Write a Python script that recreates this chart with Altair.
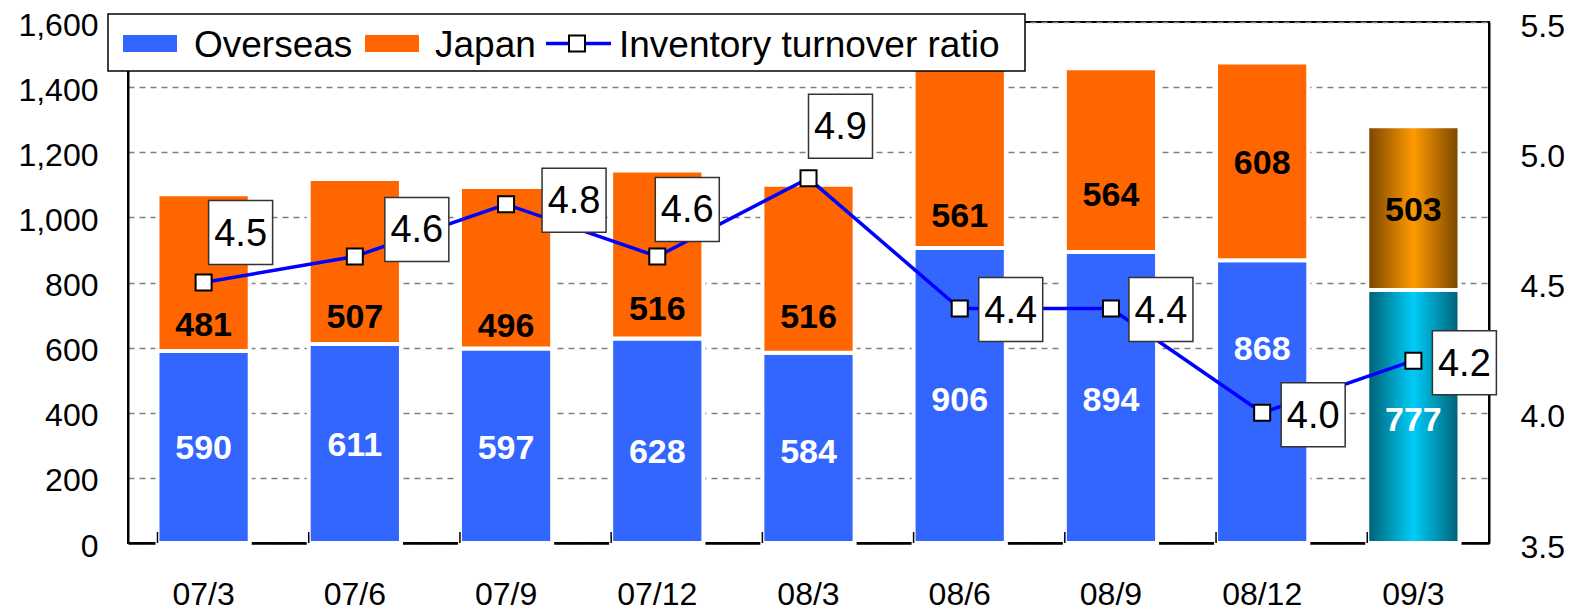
import altair as alt
import pandas as pd

# ---------------- data ----------------
periods = ["07/3", "07/6", "07/9", "07/12", "08/3", "08/6", "08/9", "08/12", "09/3"]
overseas = [590, 611, 597, 628, 584, 906, 894, 868, 777]
japan = [481, 507, 496, 516, 516, 561, 564, 608, 503]
ratio = [4.5, 4.6, 4.8, 4.6, 4.9, 4.4, 4.4, 4.0, 4.2]

left_ticks = [0, 200, 400, 600, 800, 1000, 1200, 1400, 1600]
right_ticks = [3.5, 4.0, 4.5, 5.0, 5.5]
legend_names = ["Overseas", "Japan", "Inventory turnover ratio"]

# label anchors (left-axis units) as placed in the original
overseas_label_at = [288, 297, 288, 275, 275, 437, 437, 592, 376]
japan_label_at = [665, 691, 664, 716, 691, 1000, 1066, 1165, 1019]
# pixel offsets of the boxed ratio labels from their markers
ratio_label_dx = [37, 62, 68, 30, 32, 51, 50, 51, 51]
ratio_label_dy = [-50, -27, -4, -47, -52, 1, 1, 2, 2]

df = pd.DataFrame({
    "period": periods,
    "overseas": overseas,
    "japan": japan,
    "ratio": ratio,
    "o_lab": overseas_label_at,
    "j_lab": japan_label_at,
})

W, H = 1361, 521
FONT = "Liberation Sans"
BLUE = "#3366FF"
ORANGE = "#FF6600"
LAST = periods[-1]


def xenc(**kw):
    return alt.X(
        "period:N", sort=periods,
        scale=alt.Scale(paddingInner=0.39, paddingOuter=0.195),
        axis=alt.Axis(title=None, labelAngle=0, labelFont=FONT, labelFontSize=32,
                      labelColor="black", ticks=False, tickSize=0, labelPadding=36,
                      domainColor="black", domainWidth=2.5, grid=False),
        **kw)


def yleft(field):
    return alt.Y(
        field, scale=alt.Scale(domain=[0, 1600], nice=False, zero=True),
        axis=alt.Axis(title=None, values=left_ticks, format=",.0f", labelFont=FONT,
                      labelFontSize=32, labelColor="black", ticks=False, tickSize=0,
                      labelPadding=30, labelOffset=3, domainColor="black", domainWidth=2,
                      grid=True, gridDash=[6, 5], gridColor="#808080", gridWidth=1.3))


def yright(field):
    return alt.Y(
        field, scale=alt.Scale(domain=[3.5, 5.5], nice=False, zero=False),
        axis=alt.Axis(title=None, orient="right", values=right_ticks, format=".1f",
                      labelFont=FONT, labelFontSize=32, labelColor="black",
                      ticks=False, tickSize=0, labelPadding=31, labelOffset=4,
                      domainColor="black", domainWidth=2, grid=False))


base = alt.Chart(df).transform_calculate(total="datum.overseas + datum.japan")
normal = base.transform_filter(alt.datum.period != LAST)
lastb = base.transform_filter(alt.datum.period == LAST)

bar_kw = dict(stroke="white", strokeWidth=4)
ov_bars = normal.mark_bar(color=BLUE, **bar_kw).encode(
    x=xenc(), y=yleft("overseas:Q"), y2=alt.datum(0))
jp_bars = normal.mark_bar(color=ORANGE, **bar_kw).encode(
    x=xenc(), y=yleft("total:Q"), y2="overseas:Q")

grad_blue = alt.LinearGradient(
    gradient="linear", x1=0, x2=1, y1=0, y2=0,
    stops=[alt.GradientStop(color="#005f73", offset=0),
           alt.GradientStop(color="#00ccf8", offset=0.5),
           alt.GradientStop(color="#005f73", offset=1)])
grad_orange = alt.LinearGradient(
    gradient="linear", x1=0, x2=1, y1=0, y2=0,
    stops=[alt.GradientStop(color="#774400", offset=0),
           alt.GradientStop(color="#ff9a00", offset=0.5),
           alt.GradientStop(color="#774400", offset=1)])
ov_last = lastb.mark_bar(fill=grad_blue, **bar_kw).encode(
    x=xenc(), y=yleft("overseas:Q"), y2=alt.datum(0))
jp_last = lastb.mark_bar(fill=grad_orange, **bar_kw).encode(
    x=xenc(), y=yleft("total:Q"), y2="overseas:Q")

ov_text = base.mark_text(font=FONT, fontSize=34, fontWeight="bold", color="white",
                         baseline="middle").encode(
    x=xenc(), y=yleft("o_lab:Q"), text="overseas:Q")
jp_text = base.mark_text(font=FONT, fontSize=34, fontWeight="bold", color="black",
                         baseline="middle").encode(
    x=xenc(), y=yleft("j_lab:Q"), text="japan:Q")

xticks = base.mark_rule(color="black", strokeWidth=1.5).encode(
    x=xenc(bandPosition=0), y=alt.value(H - 11), y2=alt.value(H))

# ---- legend ----
lg = alt.Chart(pd.DataFrame({"a": [0]}))
legend_layers = [
    lg.mark_rect(fill="white", stroke="black", strokeWidth=1.5).encode(
        x=alt.value(-20), x2=alt.value(897), y=alt.value(-8), y2=alt.value(49)),
    lg.mark_rect(fill=BLUE).encode(
        x=alt.value(-5), x2=alt.value(49), y=alt.value(13), y2=alt.value(30)),
    lg.mark_rect(fill=ORANGE).encode(
        x=alt.value(237), x2=alt.value(291), y=alt.value(13), y2=alt.value(30)),
    lg.mark_rule(color="#0000FF", strokeWidth=3.5).encode(
        x=alt.value(418), x2=alt.value(483), y=alt.value(21.5)),
    lg.mark_point(shape="square", size=256, filled=True, fill="white", stroke="black",
                  strokeWidth=2, opacity=1).encode(x=alt.value(449), y=alt.value(21.5)),
]
for name, px in zip(legend_names, [66, 307, 491]):
    legend_layers.append(
        lg.mark_text(font=FONT, fontSize=37, align="left", baseline="middle",
                     color="black").encode(x=alt.value(px), y=alt.value(24),
                                           text=alt.value(name)))

left = alt.layer(ov_bars, jp_bars, ov_last, jp_last, ov_text, jp_text, xticks)

line = base.mark_line(color="#0000FF", strokeWidth=3.5).encode(
    x=xenc(), y=yright("ratio:Q"))
markers = base.mark_point(shape="square", size=256, filled=True, fill="white",
                          stroke="black", strokeWidth=2, opacity=1).encode(
    x=xenc(), y=yright("ratio:Q"))
right_layers = [line, markers]
for p, dx, dy in zip(periods, ratio_label_dx, ratio_label_dy):
    one = base.transform_filter(alt.datum.period == p)
    right_layers.append(
        one.mark_point(shape="square", size=4096, filled=True, fill="white",
                       stroke="#333333", strokeWidth=1.5, opacity=1,
                       xOffset=dx, yOffset=dy).encode(x=xenc(), y=yright("ratio:Q")))
    right_layers.append(
        one.mark_text(font=FONT, fontSize=38, color="black", baseline="middle",
                      dx=dx, dy=dy + 2).encode(
            x=xenc(), y=yright("ratio:Q"), text=alt.Text("ratio:Q", format=".1f")))
right = alt.layer(*right_layers)

legend = alt.layer(*legend_layers)

chart = alt.layer(left, right, legend).resolve_scale(y="independent").properties(
    width=W, height=H,
    autosize=alt.AutoSizeParams(type="none"),
    padding={"left": 120, "top": 14, "right": 85, "bottom": 70},
    background="white",
).configure_view(stroke="black", strokeWidth=2)

chart.save("out.html", embed_options={"renderer": "svg", "actions": False})
